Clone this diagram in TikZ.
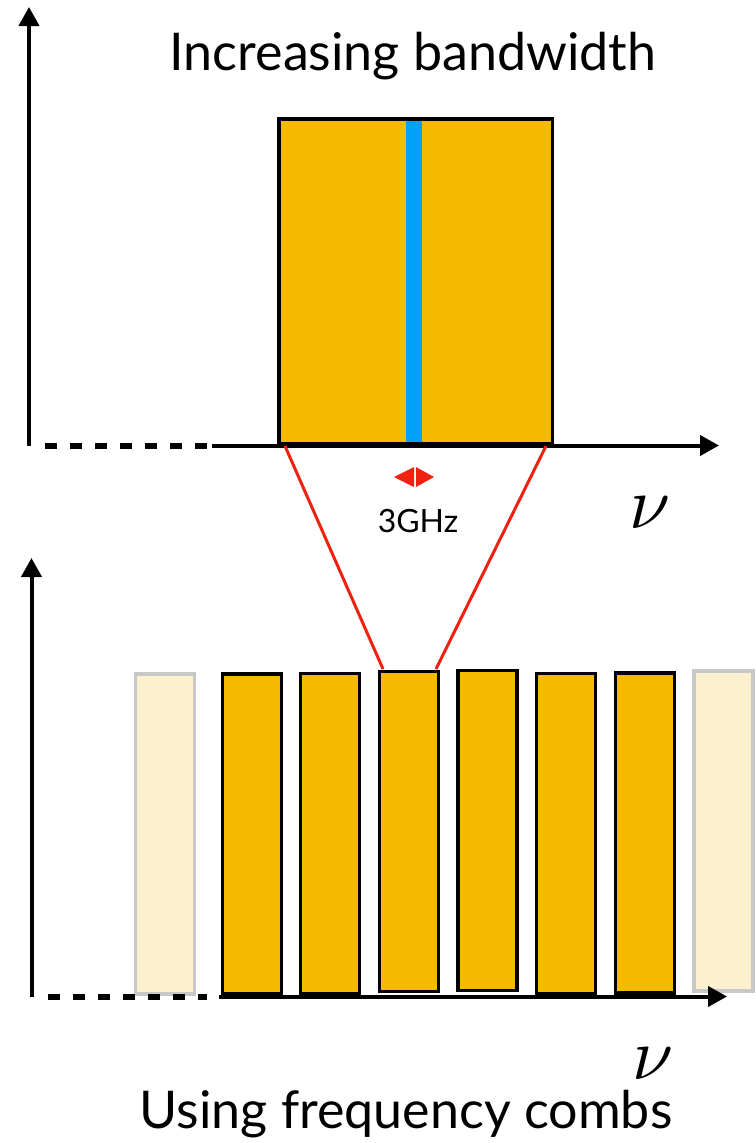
\documentclass[tikz,border=0pt]{standalone}
\usepackage{fontspec}
\setmainfont{Lato}
\usetikzlibrary{arrows.meta}
\definecolor{gold}{HTML}{F6BA00}
\definecolor{paleg}{HTML}{FDF0CF}
\definecolor{greyb}{HTML}{C8C8C8}
\definecolor{skyb}{HTML}{00A2F5}
\definecolor{redl}{HTML}{EE2211}
\tikzset{
  bar/.style={draw=black, line width=3.5pt, fill=gold, inner sep=0pt, minimum width=59pt, minimum height=320pt},
  fadebar/.style={bar, draw=greyb, fill=paleg},
  axis/.style={line width=4pt, -{Triangle[length=19pt,width=20pt]}},
  dashax/.style={line width=5.5pt, dash pattern=on 12pt off 13pt},
  redline/.style={draw=redl, line width=3pt},
  title/.style={font=\fontsize{52}{56}\selectfont, anchor=base},
  nulab/.style={anchor=base west, inner sep=0pt},
}
\newcommand{\bignu}{\resizebox{41pt}{!}{$\nu$}}
\begin{document}
\begin{tikzpicture}[x=1pt,y=-1pt]
\useasboundingbox (0,0) rectangle (755,1143);
\fill[white] (0,0) rectangle (755,1143);

% ---------- top panel ----------
\node[title] (t1) at (413,70) {Increasing bandwidth};
\node[bar, minimum width=273.5pt, minimum height=324.5pt] (big) at (415.5,281) {};
\fill[skyb] (406,120.5) rectangle (422,441.5);

\coordinate (o1) at (29,446);
\coordinate (y1) at (29,7);
\coordinate (d1s) at (45,446);
\coordinate (d1e) at (208,446);
\coordinate (s1) at (212,445.5);
\coordinate (x1) at (719,445.5);
\draw[axis] (o1) -- (y1);
\draw[dashax] (d1s) -- (d1e);
\draw[axis] (s1) -- (x1);
\node[nulab] (nu1) at (629,528) {\bignu};

% 3 GHz marker
\coordinate (mL) at (394,477);
\coordinate (mR) at (434,477);
\fill[redl] (mL) -- (414,467) -- (414,487) -- cycle;
\fill[redl] (mR) -- (416,467) -- (416,487) -- cycle;
\node[font=\fontsize{32}{36}\selectfont, anchor=base] (ghz) at (418,532) {3GHz};

% ---------- bottom panel ----------
\node[fadebar] (f1) at (165,834) {};
\node[bar] (b1) at (252,834) {};
\node[bar] (b2) at (330,833.5) {};
\node[bar] (b3) at (409,831.5) {};
\node[bar] (b4) at (487.5,830.5) {};
\node[bar] (b5) at (566,833.5) {};
\node[bar] (b6) at (645,833) {};
\node[fadebar] (f2) at (723.5,831) {};

\coordinate (o2) at (31.5,997);
\coordinate (y2) at (31.5,558);
\coordinate (d2s) at (48,997);
\coordinate (d2e) at (207,997);
\coordinate (s2) at (219,996.5);
\coordinate (x2) at (727,996.5);
\draw[axis] (o2) -- (y2);
\draw[dashax] (d2s) -- (d2e);
\draw[axis] (s2) -- (x2);
\node[nulab] (nu2) at (632,1079) {\bignu};
\node[title] (t2) at (406,1128) {Using frequency combs};

% red zoom lines
\coordinate (rA) at (285,446);
\coordinate (rB) at (546,446);
\coordinate (rC) at (383,669);
\coordinate (rD) at (436,669);
\draw[redline] (rA) -- (rC);
\draw[redline] (rB) -- (rD);
\end{tikzpicture}
\end{document}
